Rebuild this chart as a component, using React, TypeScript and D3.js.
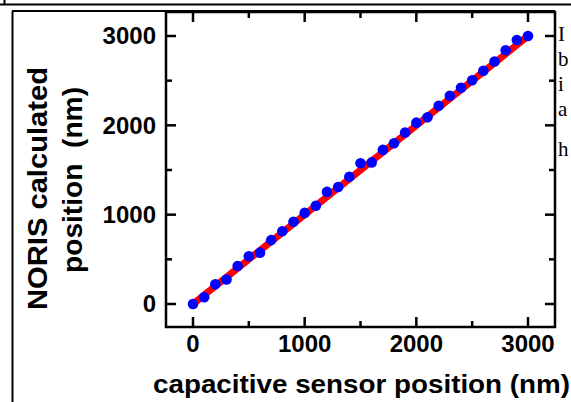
import React from "react";
import * as d3 from "d3";

// capacitive sensor position (nm)
const sensorPos = [0, 100, 200, 300, 400, 500, 600, 700, 800, 900, 1000, 1100, 1200, 1300, 1400, 1500,
    1600, 1700, 1800, 1900, 2000, 2100, 2200, 2300, 2400, 2500, 2600, 2700, 2800, 2900, 3000];
// NORIS calculated position (nm)
const norisPos = [0, 75, 220, 275, 425, 535, 575, 715, 815, 920, 1020, 1100, 1255, 1310, 1425, 1575,
    1585, 1725, 1800, 1920, 2030, 2090, 2220, 2330, 2420, 2505, 2610, 2715, 2840, 2955, 3000];
const fitLine = [0, 3000];
const majorTicks = [0, 1000, 2000, 3000];
const minorTicks = [500, 1500, 2500];
const sideText = ["I", "b", "i", "a", "h"];

export default function App() {
    const width = 571;
    const height = 402;
    const plot = { left: 166, right: 555, top: 12, bottom: 327 };

    const x = d3.scaleLinear().domain([0, 3000]).range([193, 528]);
    const y = d3.scaleLinear().domain([0, 3000]).range([304, 36]);

    const line = d3.line<number>()
        .x(d => x(d))
        .y(d => y(d));

    const font = "'Liberation Sans', Arial, Helvetica, sans-serif";

    return (
        <svg width={width} height={height} style={{ position: "absolute", left: 0, top: 0, background: "#fff" }}>
            {/* page frame lines */}
            <line x1={0} x2={width} y1={4.5} y2={4.5} stroke="#000" strokeWidth={2} />
            <line x1={4.5} x2={4.5} y1={0} y2={5} stroke="#000" strokeWidth={2} />
            <line x1={12.5} x2={12.5} y1={11} y2={height} stroke="#000" strokeWidth={2} />
            <line x1={12} x2={plot.right} y1={11} y2={11} stroke="#000" strokeWidth={2} />

            {/* neighbouring text column, cut off */}
            <g fontFamily="'Liberation Serif', 'Times New Roman', serif" fontSize={21} fill="#000">
                {sideText.map((t, i) => (
                    <text key={i} x={558} y={41 + i * 25 + (i === 4 ? 15 : 0)}>{t}</text>
                ))}
            </g>

            {/* fit line */}
            <path d={line(fitLine) || ""} fill="none" stroke="#ff0000" strokeWidth={7} />

            {/* data points */}
            <g fill="#0000ff">
                {sensorPos.map((d, i) => (
                    <circle key={i} cx={x(d)} cy={y(norisPos[i])} r={5.3} />
                ))}
            </g>

            {/* frame */}
            <rect x={plot.left} y={plot.top} width={plot.right - plot.left} height={plot.bottom - plot.top}
                fill="none" stroke="#000" strokeWidth={2.5} />

            {/* ticks */}
            <g stroke="#000" strokeWidth={2.5}>
                {majorTicks.map(t => (
                    <g key={"mx" + t}>
                        <line x1={x(t)} x2={x(t)} y1={plot.bottom} y2={plot.bottom - 10} />
                        <line x1={x(t)} x2={x(t)} y1={plot.top} y2={plot.top + 10} />
                        <line x1={plot.left} x2={plot.left + 10} y1={y(t)} y2={y(t)} />
                        <line x1={plot.right} x2={plot.right - 10} y1={y(t)} y2={y(t)} />
                    </g>
                ))}
                {minorTicks.map(t => (
                    <g key={"mn" + t}>
                        <line x1={x(t)} x2={x(t)} y1={plot.bottom} y2={plot.bottom - 6} />
                        <line x1={x(t)} x2={x(t)} y1={plot.top} y2={plot.top + 6} />
                        <line x1={plot.left} x2={plot.left + 6} y1={y(t)} y2={y(t)} />
                        <line x1={plot.right} x2={plot.right - 6} y1={y(t)} y2={y(t)} />
                    </g>
                ))}
            </g>

            {/* tick labels */}
            <g fontFamily={font} fontWeight="bold" fontSize={24} fill="#000">
                {majorTicks.map(t => (
                    <text key={"xl" + t} x={x(t)} y={352} textAnchor="middle">{t}</text>
                ))}
                {majorTicks.map(t => (
                    <text key={"yl" + t} x={156} y={y(t)} dy="0.35em" textAnchor="end">{t}</text>
                ))}
            </g>

            {/* axis titles */}
            <g fontFamily={font} fontWeight="bold" fill="#000">
                <text x={361.5} y={393} textAnchor="middle" fontSize={26}
                    textLength={417} lengthAdjust="spacingAndGlyphs">capacitive sensor position (nm)</text>
                <text transform="translate(47,188.5) rotate(-90)" textAnchor="middle" fontSize={28}
                    textLength={243} lengthAdjust="spacingAndGlyphs">NORIS calculated</text>
                <text transform="translate(82,180) rotate(-90)" textAnchor="middle" fontSize={28}
                    textLength={186} lengthAdjust="spacingAndGlyphs" style={{ whiteSpace: "pre" }}>{"position  (nm)"}</text>
            </g>
        </svg>
    );
}
